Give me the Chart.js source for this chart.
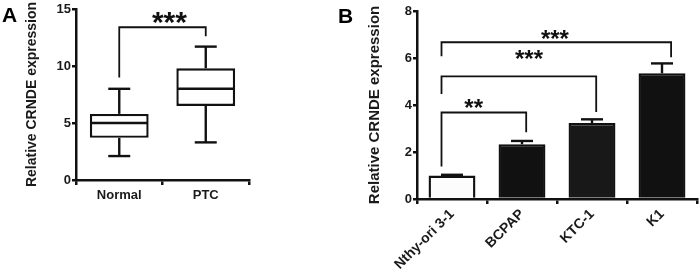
<!DOCTYPE html>
<html>
<head>
<meta charset="utf-8">
<script src="https://cdn.jsdelivr.net/npm/chart.js@4.4.0/dist/chart.umd.min.js"></script>
<style>
html, body { margin: 0; padding: 0; background: #fff; }
#wrap { position: relative; width: 700px; height: 277px; overflow: hidden; }
.panel { position: absolute; top: 0; height: 277px; }
#pa { left: 0; width: 260px; }
#pb { left: 330px; width: 370px; }
</style>
</head>
<body>
<div id="wrap">
  <div class="panel" id="pa"><canvas id="chartA" width="260" height="277"></canvas></div>
  <div class="panel" id="pb"><canvas id="chartB" width="370" height="277"></canvas></div>
</div>
<script>
// panel A : box plot
var groupsA = ['Normal', 'PTC'];
var minA = [2.1, 3.3];
var q1A = [3.7, 6.5];
var medA = [5.0, 8.0];
var q3A = [5.8, 9.8];
var maxA = [8.0, 11.7];
var ticksA = [0, 5, 10, 15];

// significance bracket A: [leftIdx, rightIdx, top, leftLegEnd, rightLegEnd]
var bracketA = [[0, 1, 13.4, 9.0, 12.6]];
var starsA = [[0.58, 14.5, '***']];

// panel B : bars with SEM
var cellsB = ['Nthy-ori 3-1', 'BCPAP', 'KTC-1', 'K1'];
var meanB = [1.0, 2.33, 3.23, 5.35];
var semB = [0.03, 0.14, 0.16, 0.42];
var ticksB = [0, 2, 4, 6, 8];
var bracketB = [
    [-0.15, 1.06, 3.68, 1.38, 2.84],
    [-0.15, 2.06, 5.22, 4.47, 3.7],
    [-0.15, 3.13, 6.67, 6.07, 6.03]
];
var starsB = [[0.31, 4.13, '**'], [1.1, 6.19, '***'], [1.47, 7.08, '***']];

var FONT = '"Liberation Sans", Arial, Helvetica, sans-serif';
var TXT = '#1a1a1a';
Chart.defaults.font.family = FONT;
Chart.defaults.font.weight = 'bold';
Chart.defaults.color = TXT;
Chart.defaults.animation = false;

function line(c, x1, y1, x2, y2) {
    c.beginPath();
    c.moveTo(x1, y1);
    c.lineTo(x2, y2);
    c.stroke();
}

// brackets + stars + panel letter
var annotPlugin = {
    id: 'annot',
    afterDraw: function (chart, args, opts) {
        var c = chart.ctx, xs = chart.scales.x, ys = chart.scales.y;
        c.save();
        c.strokeStyle = '#111';
        c.lineWidth = 1.8;
        opts.brackets.forEach(function (b) {
            var x1 = xs.getPixelForValue(b[0]), x2 = xs.getPixelForValue(b[1]);
            var yt = ys.getPixelForValue(b[2]);
            c.beginPath();
            c.moveTo(x1, ys.getPixelForValue(b[3]));
            c.lineTo(x1, yt);
            c.lineTo(x2, yt);
            c.lineTo(x2, ys.getPixelForValue(b[4]));
            c.stroke();
        });
        c.fillStyle = '#111';
        c.textAlign = 'center';
        c.textBaseline = 'alphabetic';
        c.font = 'bold ' + opts.starSize + 'px ' + FONT;
        opts.stars.forEach(function (s) {
            c.fillText(s[2], xs.getPixelForValue(s[0]), ys.getPixelForValue(s[1]) + opts.starSize * 0.58);
        });
        c.textAlign = 'left';
        c.font = 'bold 21px ' + FONT;
        c.fillStyle = '#000';
        c.fillText(opts.letter, opts.letterX, opts.letterY);
        c.restore();
    }
};

// median, whiskers and caps of the box plot
var boxPlugin = {
    id: 'boxParts',
    afterDatasetsDraw: function (chart) {
        var c = chart.ctx, ys = chart.scales.y;
        var meta = chart.getDatasetMeta(0);
        c.save();
        c.strokeStyle = '#111';
        c.lineWidth = 2.4;
        meta.data.forEach(function (bar, i) {
            var cx = bar.x, h = bar.width / 2;
            var cap = 11;
            var ym = ys.getPixelForValue(medA[i]);
            line(c, cx - h + 1, ym, cx + h - 1, ym);
            line(c, cx, ys.getPixelForValue(q3A[i]), cx, ys.getPixelForValue(maxA[i]));
            line(c, cx, ys.getPixelForValue(q1A[i]), cx, ys.getPixelForValue(minA[i]));
            line(c, cx - cap, ys.getPixelForValue(maxA[i]), cx + cap, ys.getPixelForValue(maxA[i]));
            line(c, cx - cap, ys.getPixelForValue(minA[i]), cx + cap, ys.getPixelForValue(minA[i]));
        });
        c.restore();
    }
};

// upper SEM error bars
var errPlugin = {
    id: 'errBars',
    afterDatasetsDraw: function (chart) {
        var c = chart.ctx, ys = chart.scales.y;
        var meta = chart.getDatasetMeta(0);
        c.save();
        c.strokeStyle = '#111';
        c.lineWidth = 2.4;
        meta.data.forEach(function (bar, i) {
            var yTop = ys.getPixelForValue(meanB[i] + semB[i]);
            line(c, bar.x, ys.getPixelForValue(meanB[i]), bar.x, yTop);
            line(c, bar.x - 11, yTop, bar.x + 11, yTop);
        });
        c.restore();
    }
};

function axisOpts(extra) {
    var o = {
        border: { display: true, color: '#111', width: 2.5 },
        grid: { display: true, drawOnChartArea: false, drawTicks: true, tickLength: 4, color: '#111', lineWidth: 2.5 }
    };
    return Object.assign(o, extra);
}

var chartA = new Chart(document.getElementById('chartA').getContext('2d'), {
    type: 'bar',
    data: {
        labels: groupsA,
        datasets: [{
            data: q1A.map(function (v, i) { return [v, q3A[i]]; }),
            backgroundColor: '#fff',
            borderColor: '#111',
            borderWidth: 2.4,
            borderSkipped: false,
            barPercentage: 0.68,
            categoryPercentage: 1
        }]
    },
    options: {
        responsive: false,
        layout: { padding: { left: 0, top: 9, right: 11, bottom: 0 } },
        plugins: {
            legend: { display: false },
            tooltip: { enabled: false },
            annot: { brackets: bracketA, stars: starsA, starSize: 30, letter: 'A', letterX: 2, letterY: 22 }
        },
        scales: {
            x: axisOpts({
                ticks: { font: { size: 13, weight: 'bold' }, padding: 3, color: TXT },
                grid: { display: true, drawOnChartArea: false, drawTicks: true, tickLength: 5, color: '#111', lineWidth: 2.5 },
                afterFit: function (s) { s.height = 97; }
            }),
            y: axisOpts({
                min: 0, max: 15,
                afterBuildTicks: function (s) { s.ticks = ticksA.map(function (v) { return { value: v }; }); },
                ticks: { font: { size: 13, weight: 'bold' }, padding: 1, color: TXT },
                title: { display: true, text: 'Relative CRNDE expression', font: { size: 14, weight: 'bold' }, color: TXT, padding: { top: 24, bottom: 0 } },
                afterFit: function (s) { s.width = 76; }
            })
        }
    },
    plugins: [boxPlugin, annotPlugin]
});

var chartB = new Chart(document.getElementById('chartB').getContext('2d'), {
    type: 'bar',
    data: {
        labels: cellsB,
        datasets: [{
            data: meanB,
            backgroundColor: ['#fcfcfc', '#111', '#181818', '#111'],
            borderColor: '#111',
            borderWidth: 2.4,
            barPercentage: 0.67,
            categoryPercentage: 1
        }]
    },
    options: {
        responsive: false,
        layout: { padding: { left: 0, top: 11, right: 3, bottom: 0 } },
        plugins: {
            legend: { display: false },
            tooltip: { enabled: false },
            annot: { brackets: bracketB, stars: starsB, starSize: 24, letter: 'B', letterX: 8, letterY: 23 }
        },
        scales: {
            x: axisOpts({
                ticks: { font: { size: 14, weight: 'bold' }, padding: 2, color: TXT, minRotation: 45, maxRotation: 45 },
                grid: { display: true, drawOnChartArea: false, drawTicks: true, tickLength: 5, color: '#111', lineWidth: 2.5 },
                afterFit: function (s) { s.height = 78; }
            }),
            y: axisOpts({
                min: 0, max: 8,
                afterBuildTicks: function (s) { s.ticks = ticksB.map(function (v) { return { value: v }; }); },
                ticks: { font: { size: 13, weight: 'bold' }, padding: 1, color: TXT },
                title: { display: true, text: 'Relative CRNDE expression', font: { size: 15, weight: 'bold' }, color: TXT, padding: { top: 36, bottom: 0 } },
                afterFit: function (s) { s.width = 87; }
            })
        }
    },
    plugins: [errPlugin, annotPlugin]
});
</script>
</body>
</html>
